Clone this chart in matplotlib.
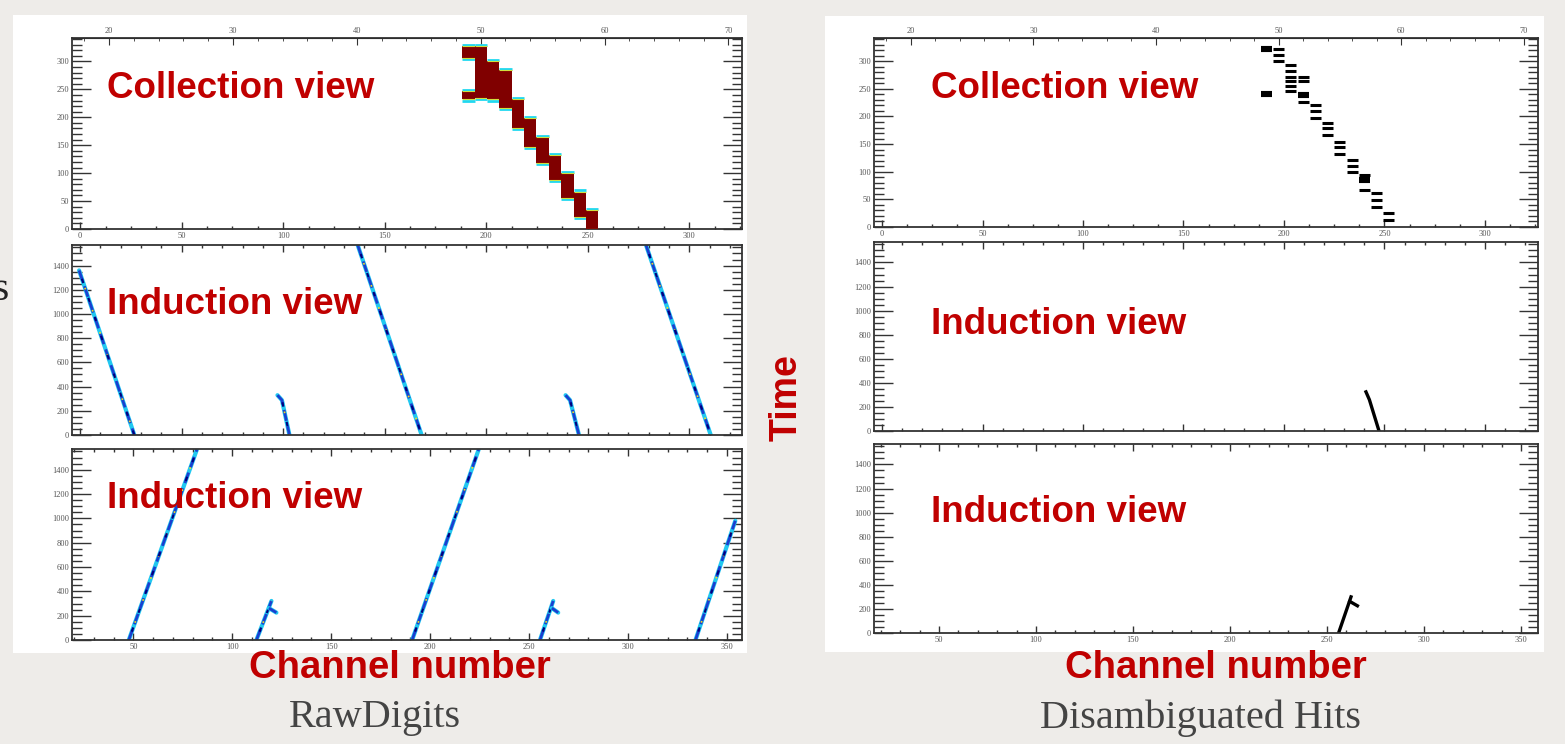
import matplotlib
matplotlib.use('Agg')
import matplotlib.pyplot as plt
from matplotlib.patches import Rectangle
from matplotlib.ticker import MultipleLocator, FixedLocator

# ---- data ----
# RawDigits collection view: wire, time start, time end of each charge block
raw_coll_wire = [49, 49, 50, 51, 52, 53, 54, 55, 56, 57, 58, 59]
raw_coll_t0 = [307, 232, 235, 232, 217, 181, 147, 118, 88, 56, 22, 0]
raw_coll_t1 = [327, 247, 327, 300, 284, 232, 199, 165, 133, 100, 67, 34]

# Disambiguated hits collection view: wire, hit time, hit size
hit_coll_wire = [49, 49, 50, 50, 50, 51, 51, 51, 51, 51, 51, 52, 52, 52, 52,
                 53, 53, 53, 54, 54, 54, 55, 55, 55, 56, 56, 56, 57, 57, 57,
                 58, 58, 58, 59, 59]
hit_coll_time = [322, 241, 322, 312, 301, 293, 282, 271, 264, 255, 247, 271,
                 264, 238, 226, 221, 210, 197, 189, 180, 166, 154, 145, 133,
                 121, 110, 100, 94, 85, 67, 61, 49, 37, 25, 12]
hit_coll_size = [2, 2, 1, 1, 1, 1, 1, 1, 1, 1, 1, 1, 1, 2, 1, 1, 1, 1, 1, 1,
                 1, 1, 1, 1, 1, 1, 1, 1, 2, 1, 1, 1, 1, 1, 1]

# RawDigits induction views: tracks as (channels, times)
raw_ind1_tracks = [
    ([-0.5, 26.7], [1360, 0]),
    ([136.8, 168.2], [1565, 0]),
    ([278.8, 310.6], [1565, 0]),
    ([97.2, 99.4, 103.1], [329, 288, 0]),
    ([239.1, 241.3, 245.7], [329, 288, 0]),
]
raw_ind2_tracks = [
    ([47.7, 82.1], [0, 1565]),
    ([190.9, 224.5], [0, 1565]),
    ([334.1, 354.2], [0, 980]),
    ([112.2, 119.8], [0, 321]),
    ([118.5, 122.3], [262, 225]),
    ([255.5, 262.2], [0, 321]),
    ([261.5, 264.7], [262, 225]),
]

# Disambiguated hits induction views
hit_ind1_tracks = [([240.8, 242.5, 247.3], [325, 260, 0])]
hit_ind2_tracks = [([256.0, 262.4], [0, 300]), ([261.8, 265.7], [262, 226])]

wire_ticks = [20, 30, 40, 50, 60, 70]

# ---- style ----
W, H = 1565, 744
BG = '#EEECE9'
RED = '#C00000'
plt.rcParams['font.family'] = ['Liberation Serif', 'DejaVu Serif']
SANS = ['Liberation Sans', 'DejaVu Sans']


def wire_to_ch(w):
    return 6.1 * w - 107.7


def ch_to_wire(c):
    return (c + 107.7) / 6.1


def px_axes(fig, x0, y0, x1, y1):
    return fig.add_axes([x0 / W, 1 - y1 / H, (x1 - x0) / W, (y1 - y0) / H])


def root_style(ax, xlim, ylim, ymaj, ymin, xmaj, xmin, xlabels=True, top=True):
    ax.set_xlim(*xlim)
    ax.set_ylim(*ylim)
    ax.xaxis.set_major_locator(MultipleLocator(xmaj))
    ax.xaxis.set_minor_locator(MultipleLocator(xmin))
    ax.yaxis.set_major_locator(MultipleLocator(ymaj))
    ax.yaxis.set_minor_locator(MultipleLocator(ymin))
    ax.tick_params(which='both', direction='in', top=top, right=True,
                   color='#333333', labelcolor='#555555', labelsize=6,
                   width=1.0, pad=2)
    ax.tick_params(axis='y', which='major', length=14)
    ax.tick_params(axis='y', which='minor', length=7)
    ax.tick_params(axis='x', which='major', length=5)
    ax.tick_params(axis='x', which='minor', length=2.5)
    if not xlabels:
        ax.tick_params(axis='x', labelbottom=False)
    for s in ax.spines.values():
        s.set_linewidth(1.3)
        s.set_color('#333333')


def wire_axis(ax):
    sec = ax.secondary_xaxis('top', functions=(ch_to_wire, wire_to_ch))
    sec.xaxis.set_major_locator(FixedLocator(wire_ticks))
    sec.xaxis.set_minor_locator(FixedLocator(list(range(18, 72, 2))))
    sec.tick_params(which='both', direction='in', color='#333333',
                    labelcolor='#555555', labelsize=6, pad=2)
    sec.tick_params(which='major', length=5)
    sec.tick_params(which='minor', length=2.5)


def raw_tracks(ax, tracks):
    for xs, ys in tracks:
        ax.plot(xs, ys, color='#20c8f0', lw=3.0, solid_capstyle='round')
        ax.plot(xs, ys, color='#1a3fd0', lw=2.0, ls=(0, (4, 2)))
        ax.plot(xs, ys, color='#f0e020', lw=1.2, ls=(3, (1, 13)))
        ax.plot(xs, ys, color='#000080', lw=1.6, ls=(5, (2, 7)))


def hit_tracks(ax, tracks):
    for xs, ys in tracks:
        ax.plot(xs, ys, color='black', lw=2.4)


fig = plt.figure(figsize=(W / 100, H / 100), dpi=100, facecolor=BG)

# white slide panels behind the plots
for x0, y0, x1, y1 in [(13, 15, 747, 653), (825, 16, 1544, 652)]:
    fig.patches.append(Rectangle((x0 / W, 1 - y1 / H), (x1 - x0) / W,
                                 (y1 - y0) / H, transform=fig.transFigure,
                                 facecolor='white', edgecolor='none',
                                 zorder=-10))

# ---- left: RawDigits ----
ax1 = px_axes(fig, 72, 38, 742, 229)
root_style(ax1, (-4, 326), (0, 342), 50, 10, 50, 12.5, top=False)
wire_axis(ax1)
for w, t0, t1 in zip(raw_coll_wire, raw_coll_t0, raw_coll_t1):
    c0, c1 = wire_to_ch(w - 0.5), wire_to_ch(w + 0.5)
    ax1.bar((c0 + c1) / 2, t1 - t0, bottom=t0, width=c1 - c0,
            color='#800000', edgecolor='none', zorder=3)
    ax1.hlines([t0 - 2, t1 + 2], c0, c1, color='#20d8f0', lw=2, zorder=2)
    ax1.hlines([t0, t1], c0, c1, color='#d0e040', lw=0.8, zorder=3)

ax2 = px_axes(fig, 72, 245, 742, 435)
root_style(ax2, (-4, 326), (0, 1570), 200, 50, 50, 10, xlabels=False)
raw_tracks(ax2, raw_ind1_tracks)

ax3 = px_axes(fig, 72, 449, 742, 640)
root_style(ax3, (19, 357.6), (0, 1570), 200, 50, 50, 10)
raw_tracks(ax3, raw_ind2_tracks)

# ---- right: Disambiguated Hits ----
bx1 = px_axes(fig, 874, 38, 1538, 227)
root_style(bx1, (-4, 326.4), (0, 342), 50, 10, 50, 12.5, top=False)
wire_axis(bx1)
for w, t, s in zip(hit_coll_wire, hit_coll_time, hit_coll_size):
    bx1.hlines(t, wire_to_ch(w - 0.45), wire_to_ch(w + 0.45),
               color='black', lw=2.2 * s)

bx2 = px_axes(fig, 874, 242, 1538, 431)
root_style(bx2, (-4, 326.4), (0, 1570), 200, 50, 50, 10, xlabels=False)
hit_tracks(bx2, hit_ind1_tracks)

bx3 = px_axes(fig, 874, 444, 1538, 633)
root_style(bx3, (16.5, 358.8), (0, 1570), 200, 50, 50, 10)
hit_tracks(bx3, hit_ind2_tracks)


# ---- annotations ----
def ftext(x, y, s, **kw):
    fig.text(x / W, 1 - y / H, s, **kw)


lab = dict(color=RED, fontsize=26.5, fontweight='bold', family=SANS,
           va='center', ha='left', zorder=10)
ftext(107, 88, 'Collection view', **lab)
ftext(107, 305, 'Induction view', **lab)
ftext(107, 498, 'Induction view', **lab)
ftext(931, 88, 'Collection view', **lab)
ftext(931, 325, 'Induction view', **lab)
ftext(931, 513, 'Induction view', **lab)

big = dict(color=RED, fontsize=27.5, fontweight='bold', family=SANS,
           va='center', ha='center')
ftext(400, 668, 'Channel number', **big)
ftext(1216, 668, 'Channel number', **big)
ftext(787, 398, 'Time', rotation=90, color=RED, fontsize=27,
      fontweight='bold', family=SANS, va='center', ha='center')

sub = dict(color='#444444', fontsize=29, va='center', ha='center')
ftext(375, 718, 'RawDigits', **sub)
ftext(1201, 718, 'Disambiguated Hits', **sub)
ftext(0, 290, 's', color='#222222', fontsize=30, va='center', ha='center')

fig.savefig('out.png', dpi=100, facecolor=BG)
